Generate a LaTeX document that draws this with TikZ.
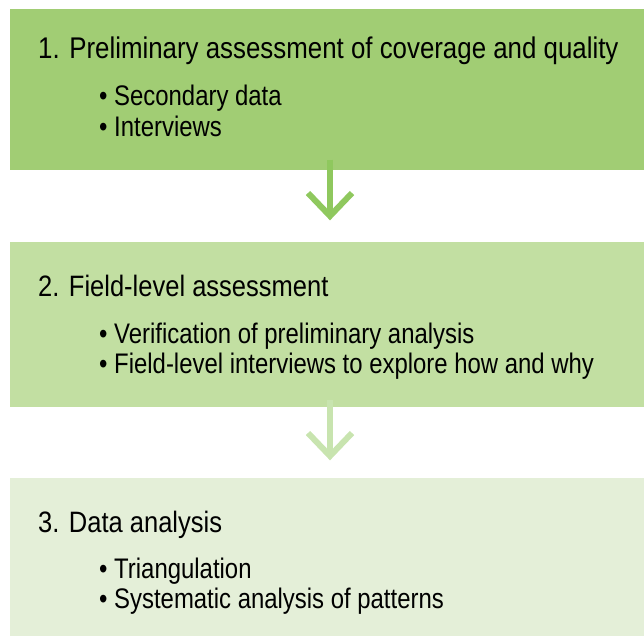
\documentclass[tikz,border=0pt]{standalone}
\usepackage{fontspec}
\setmainfont{Liberation Sans}[FakeStretch=0.865]
\newfontfamily\itmfont{Liberation Sans}[FakeStretch=0.845]
\definecolor{boxA}{RGB}{161,205,116}
\definecolor{boxB}{RGB}{194,223,162}
\definecolor{boxC}{RGB}{228,239,216}
\definecolor{arrA}{RGB}{143,200,94}
\definecolor{arrB}{RGB}{200,228,175}
\tikzset{
  stagebox/.style={inner sep=0pt, outer sep=0pt},
  ttl/.style={anchor=base west, inner sep=0pt, font=\fontsize{29.5}{29.5}\selectfont},
  itm/.style={anchor=base west, inner sep=0pt, font=\itmfont\fontsize{28.3}{28.3}\selectfont},
  flowarrow/.style={line width=6pt}
}
\begin{document}
\begin{tikzpicture}[x=1pt,y=-1pt]
\useasboundingbox (0,0) rectangle (644,636);
\fill[boxA] (10,9) rectangle (644,170);
\fill[boxB] (10,242) rectangle (644,407);
\fill[boxC] (10,478) rectangle (644,636);
\node[stagebox] (b1) at (327,89.5) {};
\node[stagebox] (b2) at (327,324.5) {};
\node[stagebox] (b3) at (327,557) {};
% arrows
\coordinate (a1s) at (330,160);
\coordinate (a1t) at (330,216);
\draw[flowarrow,arrA] (a1s) -- (a1t);
\draw[flowarrow,arrA,line join=miter] (308,193) -- (a1t) -- (352,193);
\coordinate (a2s) at (330,400);
\coordinate (a2t) at (330,456);
\draw[flowarrow,arrB] (a2s) -- (a2t);
\draw[flowarrow,arrB,line join=miter] (308,433) -- (a2t) -- (352,433);
% texts
\node[ttl,font=\fontsize{29.9}{29.9}\selectfont] (t1) at (38,59) {1. Preliminary assessment of coverage and quality};
\node[itm] (t1a) at (99,106) {• Secondary data};
\node[itm] (t1b) at (99,137) {• Interviews};
\node[ttl] (t2) at (38,296) {2. Field-level assessment};
\node[itm] (t2a) at (99,343) {• Verification of preliminary analysis};
\node[itm] (t2b) at (99,373) {• Field-level interviews to explore how and why};
\node[ttl] (t3) at (38,532) {3. Data analysis};
\node[itm] (t3a) at (99,578) {• Triangulation};
\node[itm] (t3b) at (99,608) {• Systematic analysis of patterns};
\end{tikzpicture}
\end{document}
